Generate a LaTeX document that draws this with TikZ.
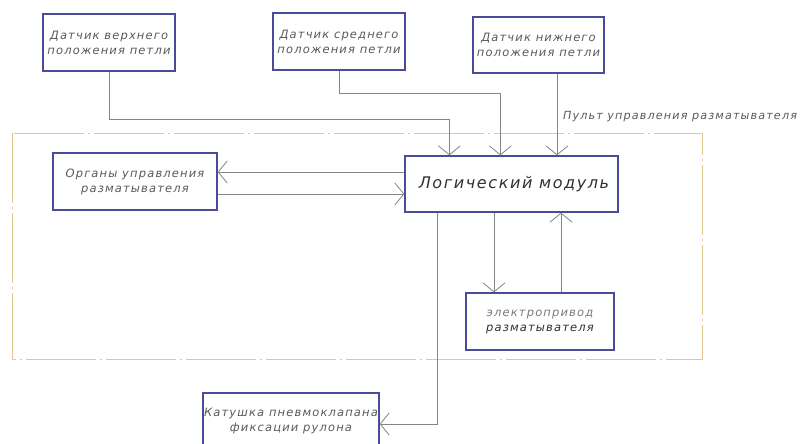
\documentclass[tikz,border=0pt]{standalone}
\usepackage{fontspec}
\newfontfamily\gost[LetterSpace=10]{DejaVu Sans}
\usetikzlibrary{arrows.meta}
\definecolor{boxc}{HTML}{4B4B9B}
\definecolor{linec}{HTML}{858585}
\definecolor{txtc}{HTML}{5A5A5A}
\definecolor{darktxt}{HTML}{303030}
\definecolor{lighttxt}{HTML}{7A7A7A}
\definecolor{dashc}{HTML}{E0C890}
\begin{document}
\begin{tikzpicture}[x=1pt,y=-1pt,
 blk/.style={draw=boxc,line width=1.3pt,fill=white,inner sep=0pt,align=center,text=txtc,font=\gost\itshape\fontsize{11.5}{15}\selectfont},
 conn/.style={draw=linec,line width=0.9pt},
 arr/.style={conn,-{Straight Barb[length=9pt,width=22pt,line width=0.8pt]}},
 lbl/.style={text=txtc,inner sep=0pt,font=\gost\itshape\fontsize{11.2}{15}\selectfont}]
\useasboundingbox (0,0) rectangle (801,444);
\draw[dashc,line width=1pt,dash pattern=on 70pt off 4pt on 2pt off 4pt] (12,133) rectangle (702,359);
\node[blk,minimum width=132pt,minimum height=57pt] (b1) at (109,42.5) {Датчик верхнего\\положения петли};
\node[blk,minimum width=132pt,minimum height=57pt] (b2) at (339,41.5) {Датчик среднего\\положения петли};
\node[blk,minimum width=131pt,minimum height=56pt] (b3) at (538.5,45) {Датчик нижнего\\положения петли};
\node[blk,minimum width=213pt,minimum height=56pt,text=darktxt,font=\gost\itshape\fontsize{16}{18}\selectfont] (lm) at (511.5,184) {\hspace*{5pt}Логический модуль};
\node[blk,minimum width=164pt,minimum height=57pt] (org) at (135,181.5) {Органы управления\\разматывателя};
\node[blk,minimum width=148pt,minimum height=57pt] (ep) at (540,321.5) {\textcolor{lighttxt}{электропривод}\\\textcolor{darktxt}{разматывателя}};
\node[blk,minimum width=176pt,minimum height=56pt] (kat) at (291,421) {Катушка пневмоклапана\\фиксации рулона};
\node[lbl] (pult) at (680,117) {Пульт управления разматывателя};
\draw[arr] (b1.south) -- (b1.south |- 0,119) -| ([xshift=45pt]lm.north west);
\draw[arr] (b2.south) -- (b2.south |- 0,93) -| ([xshift=96pt]lm.north west);
\draw[arr] (b3.south -| 557,0) -- (lm.north -| 557,0);
\draw[arr] (lm.west |- 0,172) -- (org.east |- 0,172);
\draw[arr] (org.east |- 0,194) -- (lm.west |- 0,194);
\draw[arr] (lm.south -| 494,0) -- (ep.north -| 494,0);
\draw[arr] (ep.north -| 561,0) -- (lm.south -| 561,0);
\draw[arr] (lm.south -| 437,0) |- (kat.east |- 0,424);
\end{tikzpicture}
\end{document}
